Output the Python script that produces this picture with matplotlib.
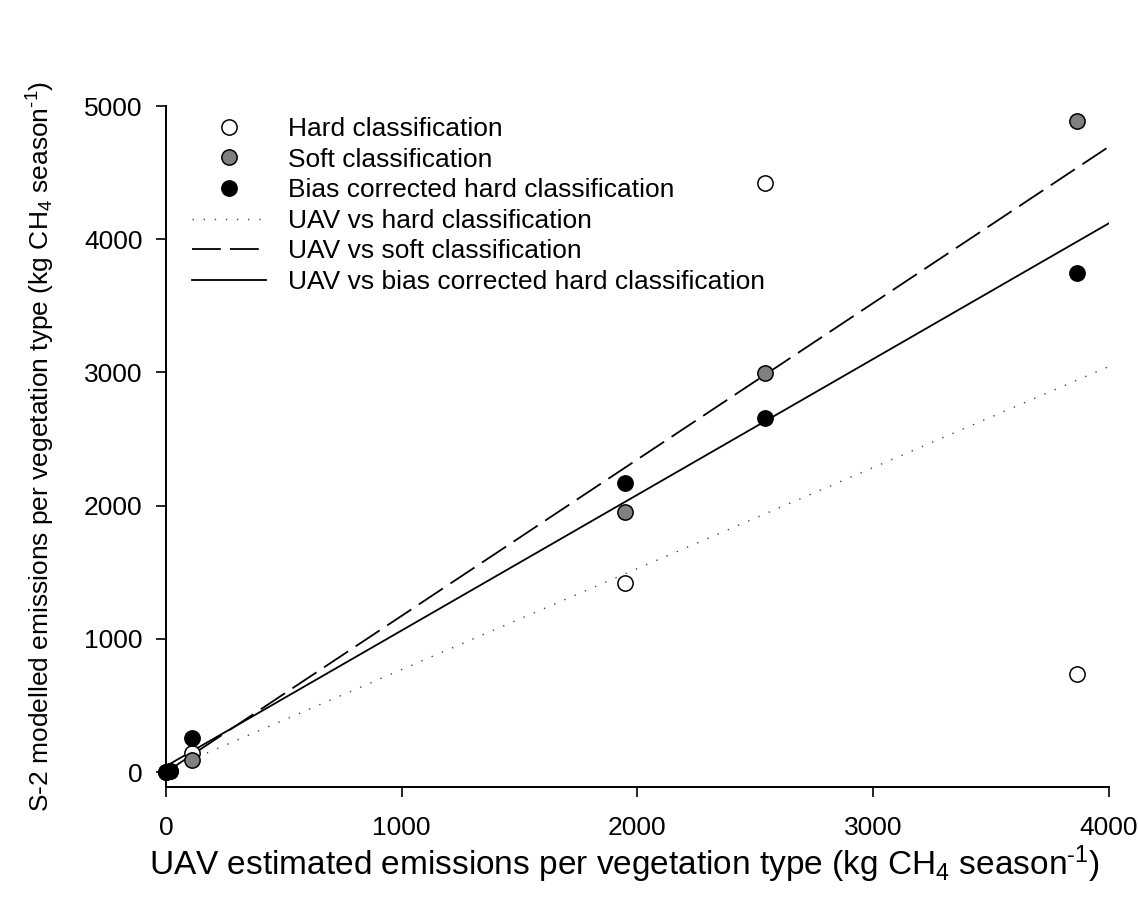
import numpy as np
import matplotlib
matplotlib.use('Agg')
import matplotlib.pyplot as plt

plt.rcParams['font.family'] = 'Liberation Sans'
plt.rcParams['mathtext.fontset'] = 'custom'
plt.rcParams['mathtext.rm'] = 'Liberation Sans'
plt.rcParams['mathtext.it'] = 'Liberation Sans'
plt.rcParams['axes.unicode_minus'] = False

# UAV estimates per vegetation type (x) and S-2 model outputs (y)
uav = [0, 17, 109, 1946, 2540, 3866]
hard = [0, 8, 145, 1421, 4422, 735]
soft = [0, 8, 90, 1952, 2995, 4884]
bias_corrected = [0, 8, 253, 2170, 2658, 3748]

# regression lines: (intercept, slope)
fit_hard = (12, 0.758)
fit_soft = (0, 1.1735)
fit_bias = (45, 1.0185)
fit_range = [0, 4000]

fig = plt.figure(figsize=(11.38, 9.06), dpi=100)
ax = fig.add_axes([0.1459, 0.1313, 0.8284, 0.7517])

xx = np.array(fit_range, dtype=float)
ax.plot(xx, fit_hard[0] + fit_hard[1] * xx, color='#444444', lw=1.0,
        linestyle=(0, (1, 7)), label='UAV vs hard classification')
ax.plot(xx, fit_soft[0] + fit_soft[1] * xx, color='black', lw=1.3,
        linestyle=(0, (16, 5)), label='UAV vs soft classification')
ax.plot(xx, fit_bias[0] + fit_bias[1] * xx, color='black', lw=1.3,
        label='UAV vs bias corrected hard classification')

mk = dict(marker='o', linestyle='none', ms=11, mew=1.1, mec='black', clip_on=False, zorder=5)
ax.plot(uav, hard, mfc='white', label='Hard classification', **mk)
ax.plot(uav, soft, mfc='#808080', label='Soft classification', **mk)
ax.plot(uav, bias_corrected, mfc='black', label='Bias corrected hard classification', **mk)

ax.set_xlim(0, 4000)
ax.set_ylim(-112, 5000)
ax.set_xticks([0, 1000, 2000, 3000, 4000])
ax.set_yticks([0, 1000, 2000, 3000, 4000, 5000])
ax.spines['top'].set_visible(False)
ax.spines['right'].set_visible(False)
for s in ['left', 'bottom']:
    ax.spines[s].set_linewidth(1.4)
ax.tick_params(direction='out', length=7, width=1.2, labelsize=19)
ax.tick_params(axis='x', pad=14)
ax.tick_params(axis='y', pad=10)

ax.set_xlabel(r'UAV estimated emissions per vegetation type (kg CH$_4$ season$^{\text{-1}}$)',
              fontsize=24)
ax.xaxis.set_label_coords(0.486, -0.083)
ax.set_ylabel(r'S-2 modelled emissions per vegetation type (kg CH$_4$ season$^{\text{-1}}$)',
              fontsize=19, labelpad=19)

# legend: point series first, then the fitted lines
handles, labels = ax.get_legend_handles_labels()
order = [3, 4, 5, 0, 1, 2]
ax.legend([handles[i] for i in order], [labels[i] for i in order],
          loc='upper left', bbox_to_anchor=(192 / 1138, (906 - 117) / 906),
          bbox_transform=fig.transFigure, frameon=False, fontsize=19,
          handlelength=2.8, handletextpad=0.83, labelspacing=0.25,
          borderpad=0, borderaxespad=0, numpoints=1)

fig.savefig('out.png', dpi=100)
